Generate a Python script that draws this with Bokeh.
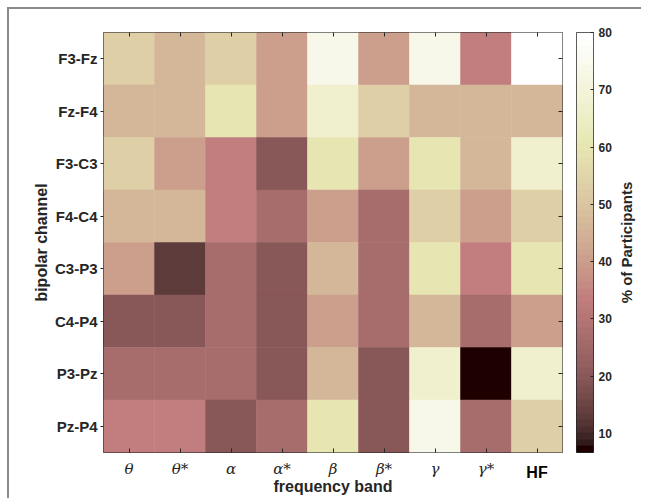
import numpy as np
from bokeh.plotting import figure
from bokeh.layouts import row
from bokeh.models import (Range1d, LinearColorMapper, ColumnDataSource, LinearAxis,
                          FixedTicker, CustomJSTickFormatter)
from bokeh.embed import file_html
from bokeh.resources import INLINE

# ---------------- data ----------------
channels = ["F3-Fz", "Fz-F4", "F3-C3", "F4-C4", "C3-P3", "C4-P4", "P3-Pz", "Pz-P4"]
bands = ["θ", "θ*", "α", "α*", "β", "β*", "γ", "γ*", "HF"]

# % of participants, one list per channel (columns follow `bands`)
f3_fz = [53.33, 46.67, 53.33, 40.00, 73.33, 40.00, 73.33, 33.33, 80.00]
fz_f4 = [46.67, 46.67, 60.00, 40.00, 66.67, 53.33, 46.67, 46.67, 46.67]
f3_c3 = [53.33, 40.00, 33.33, 20.00, 60.00, 40.00, 60.00, 46.67, 66.67]
f4_c4 = [46.67, 46.67, 33.33, 26.67, 40.00, 26.67, 53.33, 40.00, 53.33]
c3_p3 = [40.00, 13.33, 26.67, 20.00, 46.67, 26.67, 60.00, 33.33, 60.00]
c4_p4 = [20.00, 20.00, 26.67, 20.00, 40.00, 26.67, 46.67, 26.67, 40.00]
p3_pz = [26.67, 26.67, 26.67, 20.00, 46.67, 20.00, 66.67, 6.67, 66.67]
pz_p4 = [33.33, 33.33, 20.00, 26.67, 60.00, 20.00, 73.33, 26.67, 53.33]
rows = [f3_fz, fz_f4, f3_c3, f4_c4, c3_p3, c4_p4, p3_pz, pz_p4]

cbar_ticks = [10, 20, 30, 40, 50, 60, 70, 80]
c_low, c_high = 6.67, 80.0

# ---------------- MATLAB "pink" colormap ----------------
def pink(m=64):
    n = int(3 * m / 8)
    r = np.concatenate([np.arange(1, n + 1) / n, np.ones(m - n)])
    g = np.concatenate([np.zeros(n), np.arange(1, n + 1) / n, np.ones(m - 2 * n)])
    b = np.concatenate([np.zeros(2 * n), np.arange(1, m - 2 * n + 1) / (m - 2 * n)])
    gray = np.linspace(0, 1, m)
    rgb = np.sqrt((2 * gray[:, None] + np.stack([r, g, b], axis=1)) / 3)
    return ["#%02x%02x%02x" % tuple(int(round(c * 255)) for c in col) for col in rgb]

palette = pink(64)
mapper = LinearColorMapper(palette=palette, low=c_low, high=c_high)

n_b, n_c = len(bands), len(channels)
xs, ys, vs = [], [], []
for ci, vals in enumerate(rows):
    for bi, v in enumerate(vals):
        xs.append(bi + 0.5)              # column centre of band bi
        ys.append(n_c - ci - 0.5)        # first channel on top
        vs.append(v)
src = ColumnDataSource(dict(x=xs, y=ys, v=vs))

x_ticks = [i + 0.5 for i in range(n_b)]
y_ticks = [i + 0.5 for i in range(n_c)]
greek_labels = bands[:-1] + [""]                 # HF gets its own bold axis
hf_labels = [""] * (n_b - 1) + [bands[-1]]
y_labels = channels[::-1]

TXT = "#262626"
FONT = "Liberation Sans"
blank = CustomJSTickFormatter(code="return ''")
def lab_fmt(labels):
    return CustomJSTickFormatter(args=dict(labels=labels),
                                 code="return labels[Math.floor(tick)]")

# ---------------- main heat map ----------------
p = figure(frame_width=459, frame_height=420,
           x_range=Range1d(0, n_b), y_range=Range1d(0, n_c),
           output_backend="svg", toolbar_location=None,
           min_border_left=94, min_border_right=10,
           min_border_top=23, min_border_bottom=46)
p.background_fill_color = "white"
p.border_fill_color = "white"
p.outline_line_color = TXT
p.outline_line_width = 1
p.grid.visible = False

p.rect(x="x", y="y", width=1, height=1, source=src,
       fill_color={"field": "v", "transform": mapper},
       line_color={"field": "v", "transform": mapper}, line_width=0.5)

xa = p.xaxis[0]
xa.ticker = FixedTicker(ticks=x_ticks)
xa.formatter = lab_fmt(greek_labels)
xa.minor_tick_line_color = None
xa.major_label_text_font = "DejaVu Serif"
xa.major_label_text_font_style = "italic"
xa.major_label_text_font_size = "15px"
xa.major_label_text_color = TXT
xa.major_label_standoff = 7
xa.major_tick_in = 4
xa.major_tick_out = 0
xa.major_tick_line_color = TXT
xa.axis_line_color = None

# second bottom axis: bold "HF" pulled up into the row of the Greek labels,
# carrying the x-axis title
hf_ax = LinearAxis(ticker=FixedTicker(ticks=[x_ticks[-1]]), formatter=lab_fmt(hf_labels),
                   major_label_text_font=FONT, major_label_text_font_style="bold",
                   major_label_text_font_size="16px", major_label_text_color="black",
                   major_label_standoff=-17, major_tick_in=0, major_tick_out=0,
                   minor_tick_line_color=None, axis_line_color=None,
                   axis_label="frequency band", axis_label_text_font=FONT,
                   axis_label_text_font_style="bold", axis_label_text_font_size="16px",
                   axis_label_text_color=TXT, axis_label_standoff=-6)
p.add_layout(hf_ax, "below")

ya = p.yaxis[0]
ya.ticker = FixedTicker(ticks=y_ticks)
ya.formatter = lab_fmt(y_labels)
ya.minor_tick_line_color = None
ya.axis_label = "bipolar channel"
ya.axis_label_text_font = FONT
ya.axis_label_text_font_style = "bold"
ya.axis_label_text_font_size = "16px"
ya.axis_label_text_color = TXT
ya.axis_label_standoff = 2
ya.major_label_text_font = FONT
ya.major_label_text_font_style = "bold"
ya.major_label_text_font_size = "15px"
ya.major_label_text_color = TXT
ya.major_label_standoff = 3
ya.major_tick_in = 0
ya.major_tick_out = 3
ya.major_tick_line_color = TXT
ya.axis_line_color = None

for side, tk in (("above", x_ticks), ("right", y_ticks)):
    ax = LinearAxis(ticker=FixedTicker(ticks=tk), formatter=blank,
                    major_label_text_color=None, major_label_text_font_size="8px",
                    major_label_standoff=0, axis_line_color=None,
                    minor_tick_line_color=None,
                    major_tick_in=4, major_tick_out=0, major_tick_line_color=TXT)
    p.add_layout(ax, side)

# ---------------- colour bar ----------------
cb = figure(frame_width=17, frame_height=420,
            x_range=Range1d(0, 1), y_range=Range1d(c_low, c_high),
            output_backend="svg", toolbar_location=None,
            x_axis_location=None, y_axis_location="right",
            min_border_left=4, min_border_right=20,
            min_border_top=23, min_border_bottom=46)
cb.grid.visible = False
cb.outline_line_color = TXT
cb.border_fill_color = "white"
n_col = len(palette)
step = (c_high - c_low) / n_col
grad = (c_low + (np.arange(n_col) + 0.5) * step).reshape(-1, 1)
cb.image(image=[grad], x=0, y=c_low, dw=1, dh=c_high - c_low, color_mapper=mapper)

cy = cb.yaxis[0]
cy.ticker = FixedTicker(ticks=cbar_ticks)
cy.major_tick_in = 3
cy.major_tick_out = 0
cy.minor_tick_line_color = None
cy.major_tick_line_color = TXT
cy.axis_line_color = None
cy.major_label_text_font = FONT
cy.major_label_text_font_style = "bold"
cy.major_label_text_font_size = "12px"
cy.major_label_text_color = TXT
cy.major_label_standoff = 5

# ---------------- colour-bar title (left axis label of an empty strip) ----------------
tt = figure(frame_width=10, frame_height=420,
            x_range=Range1d(0, 1), y_range=Range1d(c_low, c_high),
            output_backend="svg", toolbar_location=None,
            x_axis_location=None, y_axis_location="left",
            min_border_left=15, min_border_right=0,
            min_border_top=23, min_border_bottom=46)
tt.grid.visible = False
tt.outline_line_color = None
tt.border_fill_color = "white"
ty = tt.yaxis[0]
ty.ticker = FixedTicker(ticks=[])
ty.major_tick_in = 0
ty.major_tick_out = 0
ty.minor_tick_line_color = None
ty.axis_line_color = None
ty.major_label_text_color = None
ty.axis_label = "% of Participants"
ty.axis_label_text_font = FONT
ty.axis_label_text_font_style = "bold"
ty.axis_label_text_font_size = "15px"
ty.axis_label_text_color = TXT
ty.axis_label_standoff = -3

layout = row(p, cb, tt, styles={"border-top": "2px solid #8a8a8a",
                                "border-left": "2px solid #8a8a8a",
                                "margin-left": "7px", "margin-top": "7px"})
open("out.html", "w").write(file_html(layout, INLINE))
